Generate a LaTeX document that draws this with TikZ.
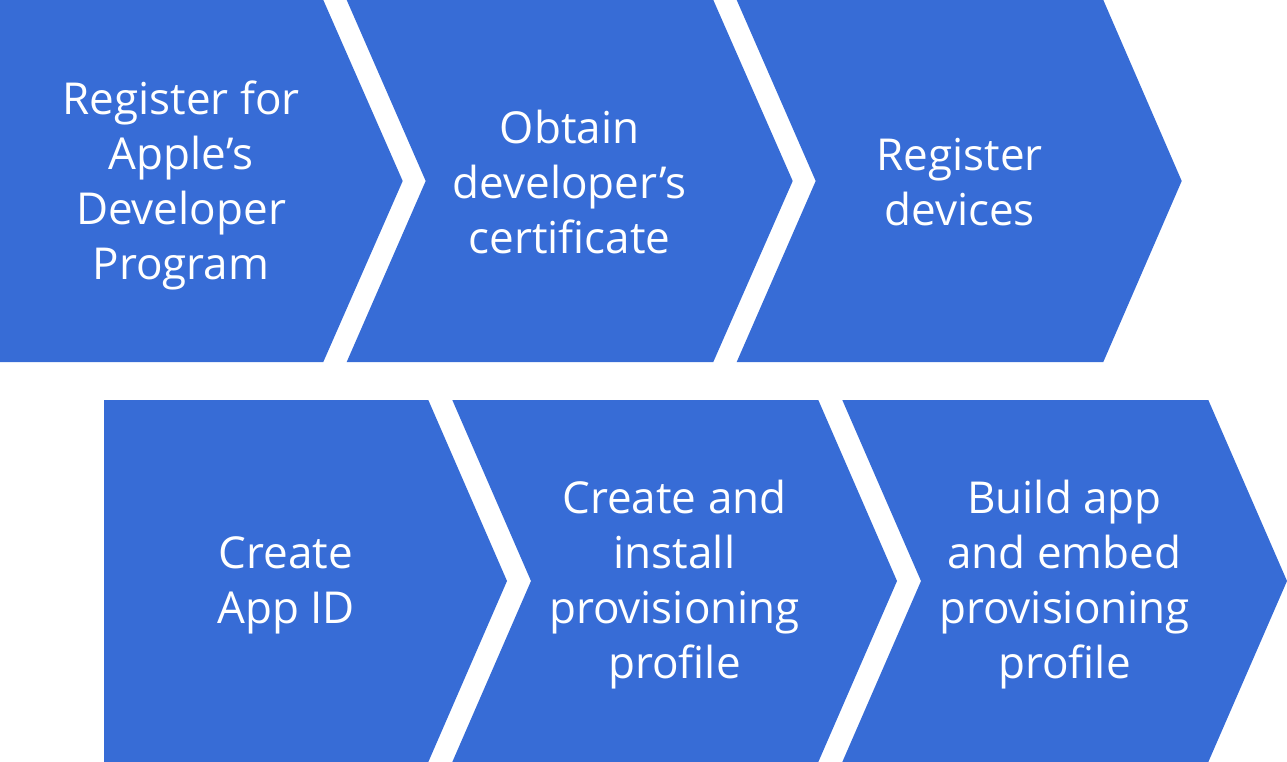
\documentclass[tikz,border=0pt]{standalone}
\usepackage{fontspec}
\setmainfont{Open Sans}
\definecolor{stepblue}{RGB}{55,108,214}
\tikzset{
  stepshape/.style={fill=stepblue, draw=none},
  steptext/.style={text=white, align=center, inner sep=0pt,
    font=\fontsize{44}{55}\selectfont}
}
\begin{document}
\begin{tikzpicture}[x=1pt, y=-1pt]
    \useasboundingbox (0,0) rectangle (1287,762);

    % top row
    \fill[stepshape] (0,0) -- (323.3,0) -- (402.7,181) -- (323.3,362) -- (0,362) -- cycle;
    \fill[stepshape] (346.7,0) -- (713.3,0) -- (792.7,181) -- (713.3,362) -- (346.7,362) -- (425.7,181) -- cycle;
    \fill[stepshape] (736.7,0) -- (1103.3,0) -- (1181.7,181) -- (1103.3,362) -- (736.7,362) -- (815.7,181) -- cycle;

    % bottom row
    \fill[stepshape] (104,400) -- (428.3,400) -- (507,581) -- (428.3,762) -- (104,762) -- cycle;
    \fill[stepshape] (452.3,400) -- (818.3,400) -- (897,581) -- (818.3,762) -- (452.3,762) -- (531,581) -- cycle;
    \fill[stepshape] (842.3,400) -- (1208.3,400) -- (1287,581) -- (1208.3,762) -- (842.3,762) -- (921,581) -- cycle;

    \node[steptext] (register) at (181,185) {Register for\\Apple’s\\Developer\\Program};
    \node[steptext] (certificate) at (569.5,182) {Obtain\\developer’s\\certificate};
    \node[steptext] (devices) at (959.5,182) {Register\\devices};
    \node[steptext] (appid) at (286,585) {Create\\App ID};
    \node[steptext] (install) at (674.5,585) {Create and\\install\\provisioning\\profile};
    \node[steptext] (build) at (1064.5,585) {Build app\\and embed\\provisioning\\profile};
\end{tikzpicture}
\end{document}
